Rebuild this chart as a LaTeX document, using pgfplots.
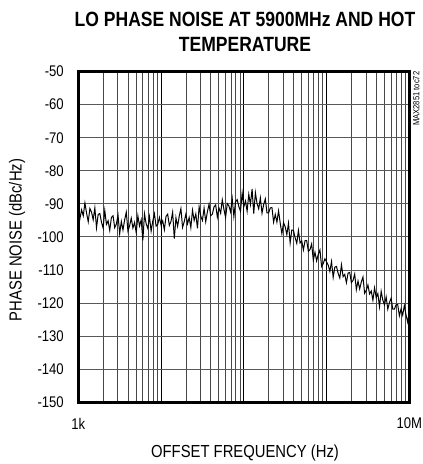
\documentclass[border=0pt]{standalone}
\usepackage{pgfplots}
\pgfplotsset{compat=1.18}
\usepackage{pgfplotstable}
\usepackage{fontspec}
\setmainfont{Liberation Sans}[FakeStretch=0.85]

% phase noise trace, e = log10(offset frequency / Hz), y in dBc/Hz
\pgfplotstableread{
e y
3.00 -90.5
3.02 -94.4
3.04 -91.8
3.06 -93.6
3.08 -89.7
3.10 -92.8
3.12 -95.4
3.14 -91.4
3.16 -92.5
3.18 -94.8
3.20 -91.2
3.22 -97.2
3.24 -93.2
3.26 -92.9
3.28 -95.5
3.30 -97.3
3.32 -92.0
3.34 -96.2
3.36 -95.1
3.38 -98.0
3.40 -94.1
3.42 -93.6
3.44 -97.2
3.46 -96.1
3.48 -93.4
3.50 -99.0
3.52 -95.3
3.54 -97.9
3.56 -94.8
3.58 -92.5
3.60 -98.2
3.62 -96.6
3.64 -94.3
3.66 -97.3
3.68 -95.6
3.70 -98.7
3.72 -93.6
3.74 -96.7
3.76 -94.8
3.78 -101.0
3.80 -93.0
3.82 -96.0
3.84 -97.4
3.86 -93.9
3.88 -98.2
3.90 -95.2
3.92 -93.0
3.94 -96.7
3.96 -96.2
3.98 -94.1
4.00 -96.4
4.02 -95.1
4.04 -97.8
4.06 -93.8
4.08 -93.1
4.10 -96.5
4.12 -95.3
4.14 -92.5
4.16 -100.5
4.18 -94.2
4.20 -96.8
4.22 -93.7
4.24 -91.4
4.26 -97.1
4.28 -95.4
4.30 -93.1
4.32 -96.0
4.34 -94.1
4.36 -97.2
4.38 -91.9
4.40 -95.0
4.42 -93.0
4.44 -97.4
4.46 -90.9
4.48 -93.7
4.50 -95.0
4.52 -91.3
4.54 -95.4
4.56 -92.4
4.58 -90.1
4.60 -93.6
4.62 -93.1
4.64 -90.9
4.66 -90.3
4.68 -94.0
4.70 -91.2
4.72 -92.8
4.74 -88.8
4.76 -91.7
4.78 -94.1
4.80 -89.9
4.82 -90.6
4.84 -92.4
4.86 -88.4
4.88 -93.8
4.90 -89.4
4.92 -88.7
4.94 -90.8
4.96 -92.2
4.98 -86.7
5.00 -90.9
5.02 -89.1
5.04 -92.2
5.06 -87.1
5.08 -90.2
5.10 -85.5
5.12 -92.9
5.14 -86.6
5.16 -89.9
5.18 -91.5
5.20 -88.2
5.22 -92.8
5.24 -90.2
5.26 -88.5
5.28 -92.7
5.30 -92.7
5.32 -91.2
5.34 -91.1
5.36 -95.5
5.38 -93.2
5.40 -95.5
5.42 -92.1
5.44 -95.8
5.46 -99.0
5.48 -95.7
5.50 -96.9
5.52 -99.3
5.54 -95.8
5.56 -101.8
5.58 -97.9
5.60 -98.0
5.62 -100.2
5.64 -101.9
5.66 -98.0
5.68 -101.8
5.70 -101.2
5.72 -103.9
5.74 -101.1
5.76 -101.1
5.78 -104.3
5.80 -103.8
5.82 -102.1
5.84 -107.0
5.86 -104.6
5.88 -107.2
5.90 -105.2
5.92 -103.9
5.94 -108.9
5.96 -108.0
5.98 -106.6
6.00 -107.5
6.02 -108.5
6.04 -110.4
6.06 -107.4
6.08 -112.2
6.10 -109.1
6.12 -108.9
6.14 -111.0
6.16 -112.4
6.18 -108.4
6.20 -112.0
6.22 -111.3
6.24 -113.8
6.26 -110.9
6.28 -110.7
6.30 -113.8
6.32 -113.1
6.34 -111.2
6.36 -115.9
6.38 -113.3
6.40 -115.7
6.42 -113.6
6.44 -112.1
6.46 -117.0
6.48 -116.1
6.50 -114.5
6.52 -117.2
6.54 -116.3
6.56 -119.1
6.58 -115.4
6.60 -118.3
6.62 -117.1
6.64 -121.1
6.66 -116.4
6.68 -119.1
6.70 -120.5
6.72 -118.1
6.74 -121.8
6.76 -119.8
6.78 -118.5
6.80 -121.8
6.82 -121.8
6.84 -120.5
6.86 -120.4
6.88 -123.8
6.90 -121.8
6.92 -123.6
6.94 -120.7
6.96 -123.5
6.98 -125.7
7.00 -122.8
}\noisedata

\begin{document}
\begin{tikzpicture}[x=1bp,y=1bp]
\useasboundingbox (-78.3,-61.5) rectangle (343.7,402.5);
\begin{axis}[
  at={(0,0)}, anchor=south west,
  width=331bp, height=331bp, scale only axis,
  xmode=log,
  xmin=1e3, xmax=1e7,
  ymin=-150, ymax=-50,
  xtick={1e3,1e4,1e5,1e6,1e7},
  xticklabels={1k,,,,10M},
  ytick={-150,-140,...,-50},
  yticklabels={-150,-140,-130,-120,-110,-100,-90,-80,-70,-60,-50},
  grid=both,
  major x grid style={black, line width=1.1pt},
  minor x grid style={black!72, line width=0.9pt},
  major y grid style={black!65, line width=1pt},
  tick style={draw=none},
  axis line style={line width=2.6pt},
  tick label style={font=\fontsize{15.5}{17}\selectfont},
  xticklabel style={yshift=-12bp},
  yticklabel style={xshift=-11bp},
]
\addplot[black, line width=1pt] table[x expr={10^\thisrow{e}}, y=y] \noisedata;
\end{axis}
\node[anchor=base, font=\bfseries\fontsize{20.7}{24}\selectfont] at (166.7,375.7)
  {LO PHASE NOISE AT 5900MHz AND HOT};
\node[anchor=base, font=\bfseries\fontsize{20.7}{24}\selectfont] at (166.7,351.3)
  {TEMPERATURE};
\node[rotate=90, font=\fontsize{17.5}{19}\selectfont] at (-61.3,162.5) {PHASE NOISE (dBc/Hz)};
\node[font=\fontsize{17.5}{19}\selectfont] at (166.7,-50) {OFFSET FREQUENCY (Hz)};
\node[rotate=90, anchor=east, inner sep=1bp, font=\fontsize{9}{10}\selectfont] at (338,332) {MAX2851 toc72};
\end{tikzpicture}
\end{document}
